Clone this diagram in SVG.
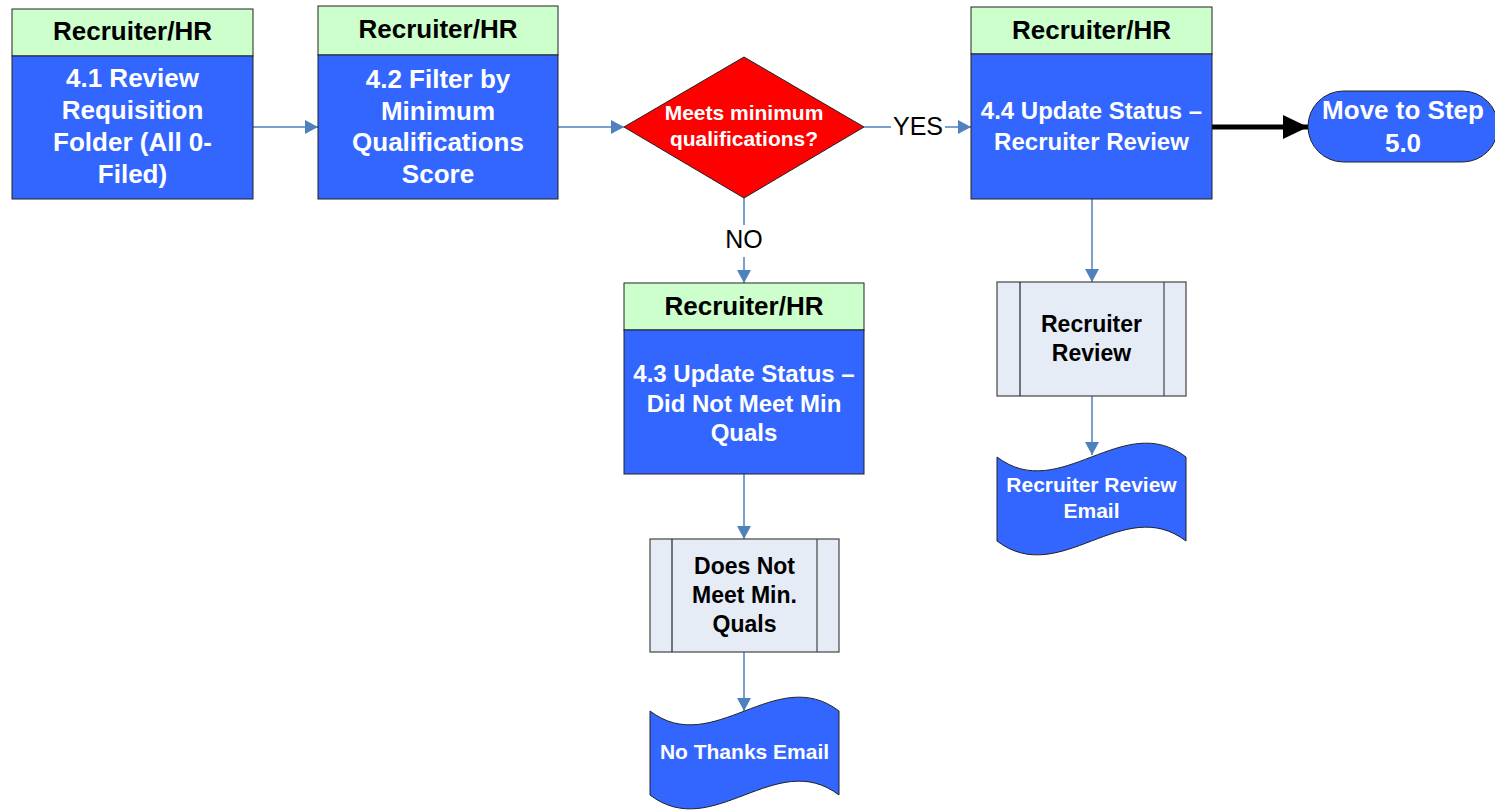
<svg xmlns="http://www.w3.org/2000/svg" width="1495" height="810" viewBox="0 0 1495 810">
<style>
.hdr{fill:#CCFFCC;stroke:#222;stroke-width:1}
.body{fill:#3366FF;stroke:#222;stroke-width:1}
.pre{fill:#E6ECF6;stroke:#444;stroke-width:1.2}
.doc{fill:#3366FF;stroke:#222;stroke-width:1}
.t{font-family:"Liberation Sans",Arial,sans-serif;font-weight:bold;text-anchor:middle}
.th{font-size:26px;fill:#000}
.tw{fill:#fff}
.tb{fill:#000}
.lbl{font-family:"Liberation Sans",Arial,sans-serif;font-size:25px;fill:#000;text-anchor:middle}
.conn{stroke:#4F81BD;stroke-width:1.5;fill:none}
</style>
<defs>
<marker id="arr" markerUnits="userSpaceOnUse" markerWidth="14" markerHeight="14" refX="13" refY="7" orient="auto" viewBox="0 0 14 14">
<path d="M0,0 L13,7 L0,14 Z" fill="#4F81BD"/>
</marker>
<marker id="barr" markerUnits="userSpaceOnUse" markerWidth="26" markerHeight="26" refX="25" refY="13" orient="auto" viewBox="0 0 26 26">
<path d="M0,1 L25,13 L0,25 Z" fill="#000"/>
</marker>
</defs>
<rect width="1495" height="810" fill="#fff"/>

<g id="connectors">
<line class="conn" x1="253" y1="127" x2="318" y2="127" marker-end="url(#arr)"/>
<line class="conn" x1="558" y1="127" x2="624" y2="127" marker-end="url(#arr)"/>
<line class="conn" x1="864" y1="127" x2="891" y2="127"/>
<line class="conn" x1="945" y1="127" x2="971" y2="127" marker-end="url(#arr)"/>
<text class="lbl" x="918" y="135">YES</text>
<line class="conn" x1="744" y1="198" x2="744" y2="225"/>
<line class="conn" x1="744" y1="257" x2="744" y2="283" marker-end="url(#arr)"/>
<text class="lbl" x="744" y="248">NO</text>
<line class="conn" x1="744" y1="474" x2="744" y2="539" marker-end="url(#arr)"/>
<line class="conn" x1="744" y1="652" x2="744" y2="711" marker-end="url(#arr)"/>
<line class="conn" x1="1092" y1="199" x2="1092" y2="282" marker-end="url(#arr)"/>
<line class="conn" x1="1092" y1="396" x2="1092" y2="455" marker-end="url(#arr)"/>
<line x1="1212" y1="127" x2="1308" y2="127" stroke="#000" stroke-width="5" marker-end="url(#barr)"/>
</g>

<g id="n41">
<rect class="hdr" x="12" y="9" width="241" height="47"/>
<rect class="body" x="12" y="56" width="241" height="143"/>
<text class="t th" x="132.5" y="40">Recruiter/HR</text>
<text class="t tw" font-size="26" x="132.5" y="87">4.1 Review</text>
<text class="t tw" font-size="26" x="132.5" y="119">Requisition</text>
<text class="t tw" font-size="26" x="132.5" y="151">Folder (All 0-</text>
<text class="t tw" font-size="26" x="132.5" y="183">Filed)</text>
</g>

<g id="n42">
<rect class="hdr" x="318" y="6" width="240" height="49"/>
<rect class="body" x="318" y="55" width="240" height="144"/>
<text class="t th" x="438" y="38">Recruiter/HR</text>
<text class="t tw" font-size="26" x="438" y="88">4.2 Filter by</text>
<text class="t tw" font-size="26" x="438" y="120">Minimum</text>
<text class="t tw" font-size="26" x="438" y="151">Qualifications</text>
<text class="t tw" font-size="26" x="438" y="183">Score</text>
</g>

<g id="decision">
<polygon points="624,127 744,57 864,127 744,198" fill="#FF0000" stroke="#222" stroke-width="1"/>
<text class="t tw" font-size="21" x="744" y="120">Meets minimum</text>
<text class="t tw" font-size="21" x="744" y="146">qualifications?</text>
</g>

<g id="n44">
<rect class="hdr" x="971" y="7" width="241" height="47"/>
<rect class="body" x="971" y="54" width="241" height="145"/>
<text class="t th" x="1091.5" y="39">Recruiter/HR</text>
<text class="t tw" font-size="24" x="1091.5" y="119">4.4 Update Status –</text>
<text class="t tw" font-size="24" x="1091.5" y="150">Recruiter Review</text>
</g>

<g id="step5">
<rect x="1308" y="91" width="190" height="71" rx="35.5" ry="35.5" fill="#3366FF" stroke="#222" stroke-width="1"/>
<text class="t tw" font-size="26" x="1403" y="119">Move to Step</text>
<text class="t tw" font-size="26" x="1403" y="152">5.0</text>
</g>

<g id="n43">
<rect class="hdr" x="624" y="283" width="240" height="47"/>
<rect class="body" x="624" y="330" width="240" height="144"/>
<text class="t th" x="744" y="315">Recruiter/HR</text>
<text class="t tw" font-size="24" x="744" y="382">4.3 Update Status –</text>
<text class="t tw" font-size="24" x="744" y="412">Did Not Meet Min</text>
<text class="t tw" font-size="24" x="744" y="441">Quals</text>
</g>

<g id="dnm">
<rect class="pre" x="650" y="539" width="189" height="113"/>
<line x1="672" y1="539" x2="672" y2="652" stroke="#222" stroke-width="1.2"/>
<line x1="817" y1="539" x2="817" y2="652" stroke="#444" stroke-width="1.2"/>
<text class="t tb" font-size="23" x="744.5" y="574">Does Not</text>
<text class="t tb" font-size="23" x="744.5" y="603">Meet Min.</text>
<text class="t tb" font-size="23" x="744.5" y="632">Quals</text>
</g>

<g id="nothanks">
<path class="doc" d="M650,711 C713,759 776,663 839,711 L839,795 C776,747 713,843 650,795 Z"/>
<text class="t tw" font-size="21" x="744.5" y="759">No Thanks Email</text>
</g>

<g id="rr">
<rect class="pre" x="997" y="282" width="189" height="114"/>
<line x1="1020" y1="282" x2="1020" y2="396" stroke="#222" stroke-width="1.2"/>
<line x1="1164" y1="282" x2="1164" y2="396" stroke="#444" stroke-width="1.2"/>
<text class="t tb" font-size="23" x="1091.5" y="332">Recruiter</text>
<text class="t tb" font-size="23" x="1091.5" y="361">Review</text>
</g>

<g id="rremail">
<path class="doc" d="M997,457 C1060,505 1123,409 1186,457 L1186,541 C1123,493 1060,589 997,541 Z"/>
<text class="t tw" font-size="21" x="1091.5" y="492">Recruiter Review</text>
<text class="t tw" font-size="21" x="1091.5" y="518">Email</text>
</g>
</svg>
